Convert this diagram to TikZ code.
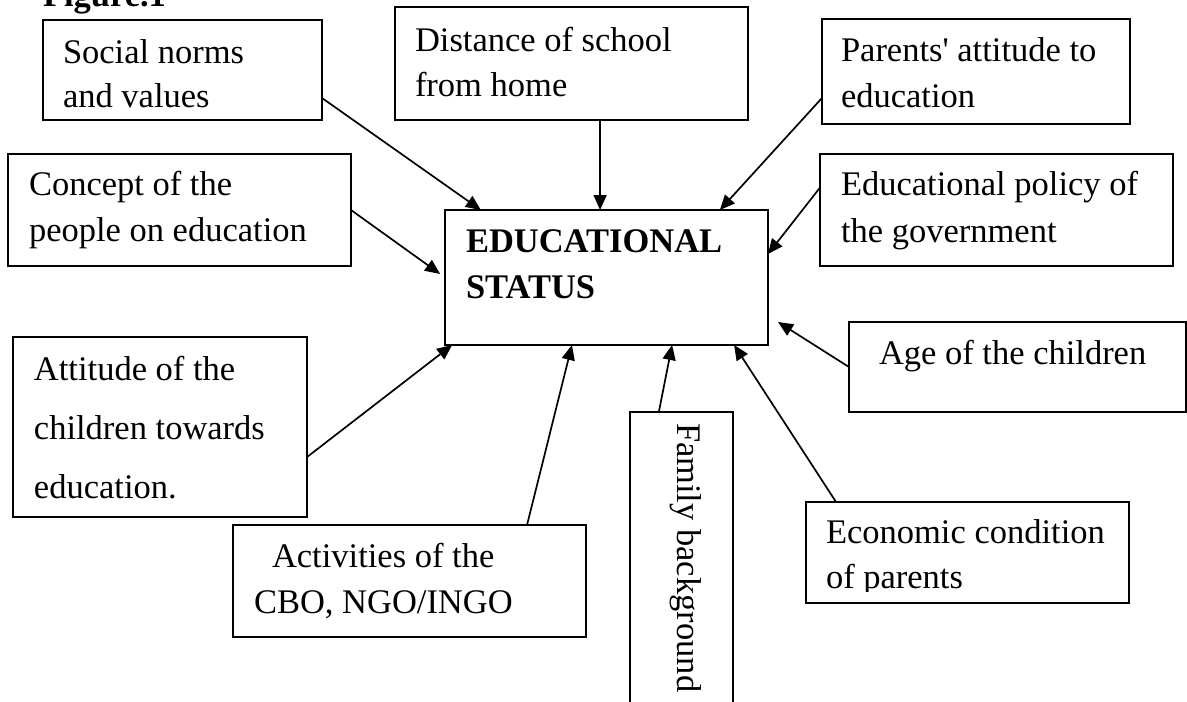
\documentclass[tikz,border=0pt]{standalone}
\usepackage{fontspec}
\setmainfont{Liberation Serif}
\usetikzlibrary{arrows.meta,calc}
\newcommand\boxfont{\fontsize{34.5}{40}\selectfont}
\begin{document}
\begin{tikzpicture}[x=1pt,y=-1pt,
  box/.style={draw,line width=1.7pt,rectangle,inner sep=0pt,outer sep=0pt},
  lbl/.style={anchor=base west,inner sep=0pt,outer sep=0pt,font=\boxfont},
  blbl/.style={lbl,font=\boxfont\bfseries},
  arr/.style={line width=1.7pt,-{Triangle[length=15pt,width=13pt]}}]
\useasboundingbox[fill=white] (0,0) rectangle (1187,702);

% heading, partly above the page
\node[blbl] (fig) at (43,6) {Figure.1};

% factor boxes
\node[box,minimum width=279pt,minimum height=100pt] (social)  at (182.5,70) {};
\node[box,minimum width=353pt,minimum height=113pt] (dist)    at (571.5,63.5) {};
\node[box,minimum width=308pt,minimum height=105pt] (parents) at (976,71.5) {};
\node[box,minimum width=343pt,minimum height=112pt] (concept) at (179.5,210) {};
\node[box,minimum width=353pt,minimum height=112pt] (policy)  at (996.5,210) {};
\node[box,minimum width=323pt,minimum height=135pt] (central) at (606.5,277.5) {};
\node[box,minimum width=337pt,minimum height=90pt]  (age)     at (1017.5,367) {};
\node[box,minimum width=294pt,minimum height=180pt] (attit)   at (160,427) {};
\node[box,minimum width=353pt,minimum height=112pt] (activ)   at (409.5,581) {};
\node[box,minimum width=103pt,minimum height=318pt] (family)  at (681.5,571) {};
\node[box,minimum width=323pt,minimum height=101pt] (econ)    at (967.5,552.5) {};

% box texts
\node[lbl] (social1) at (63,63)  {Social norms};
\node[lbl] (social2) at (63,107) {and values};
\node[lbl] (dist1) at (415,51) {Distance of school};
\node[lbl] (dist2) at (415,96) {from home};
\node[lbl] (par1) at (841,61)  {Parents\textquotesingle\ attitude to};
\node[lbl] (par2) at (841,107) {education};
\node[lbl] (con1) at (29,195) {Concept of the};
\node[lbl] (con2) at (29,241) {people on education};
\node[lbl] (pol1) at (841,195) {Educational policy of};
\node[lbl] (pol2) at (841,242) {the government};
\node[blbl] (cen1) at (466,252) {EDUCATIONAL};
\node[blbl] (cen2) at (466,298) {STATUS};
\node[lbl] (age1) at (879,364) {Age of the children};
\node[lbl] (att1) at (34,380) {Attitude of the};
\node[lbl] (att2) at (34,439) {children towards};
\node[lbl] (att3) at (34,498) {education.};
\node[lbl] (act1) at (272,567) {Activities of the};
\node[lbl] (act2) at (254,613) {CBO, NGO/INGO};
\node[lbl,rotate=-90] (fam1) at (677,423) {Family background};
\node[lbl] (eco1) at (826,543) {Economic condition};
\begin{scope}
  \clip (806,502) rectangle (1129,591);
  \node[lbl] (eco2) at (826,588) {of parents};
\end{scope}

% connectors into the central box
\draw[arr] ($(social.north east)!0.78!(social.south east)$)
        -- ($(central.north west)!0.111!(central.north east)$);
\coordinate (distout) at ($(dist.south west)!0.581!(dist.south east)$);
\draw[arr] (distout) -- (distout |- central.north);
\draw[arr] ($(parents.north west)!0.752!(parents.south west)$)
        -- ($(central.north west)!0.851!(central.north east)$);
\draw[arr] ($(policy.north west)!0.30!(policy.south west)$)
        -- ($(central.north east)!0.326!(central.south east)$);
\draw[arr,shorten >=6pt] (concept.east) -- (central.west);
\draw[arr] (age.west) -- ([shift={(10,-23)}]central.south east);
\draw[arr] ($(econ.north west)!0.093!(econ.north east)$)
        -- ($(central.south west)!0.895!(central.south east)$);
\draw[arr] ($(family.north west)!0.28!(family.north east)$)
        -- ($(central.south west)!0.703!(central.south east)$);
\draw[arr] ($(activ.north west)!0.833!(activ.north east)$)
        -- ($(central.south west)!0.393!(central.south east)$);
\draw[arr] ($(attit.north east)!0.667!(attit.south east)$)
        -- ($(central.south west)!0.022!(central.south east)$);
\end{tikzpicture}
\end{document}
